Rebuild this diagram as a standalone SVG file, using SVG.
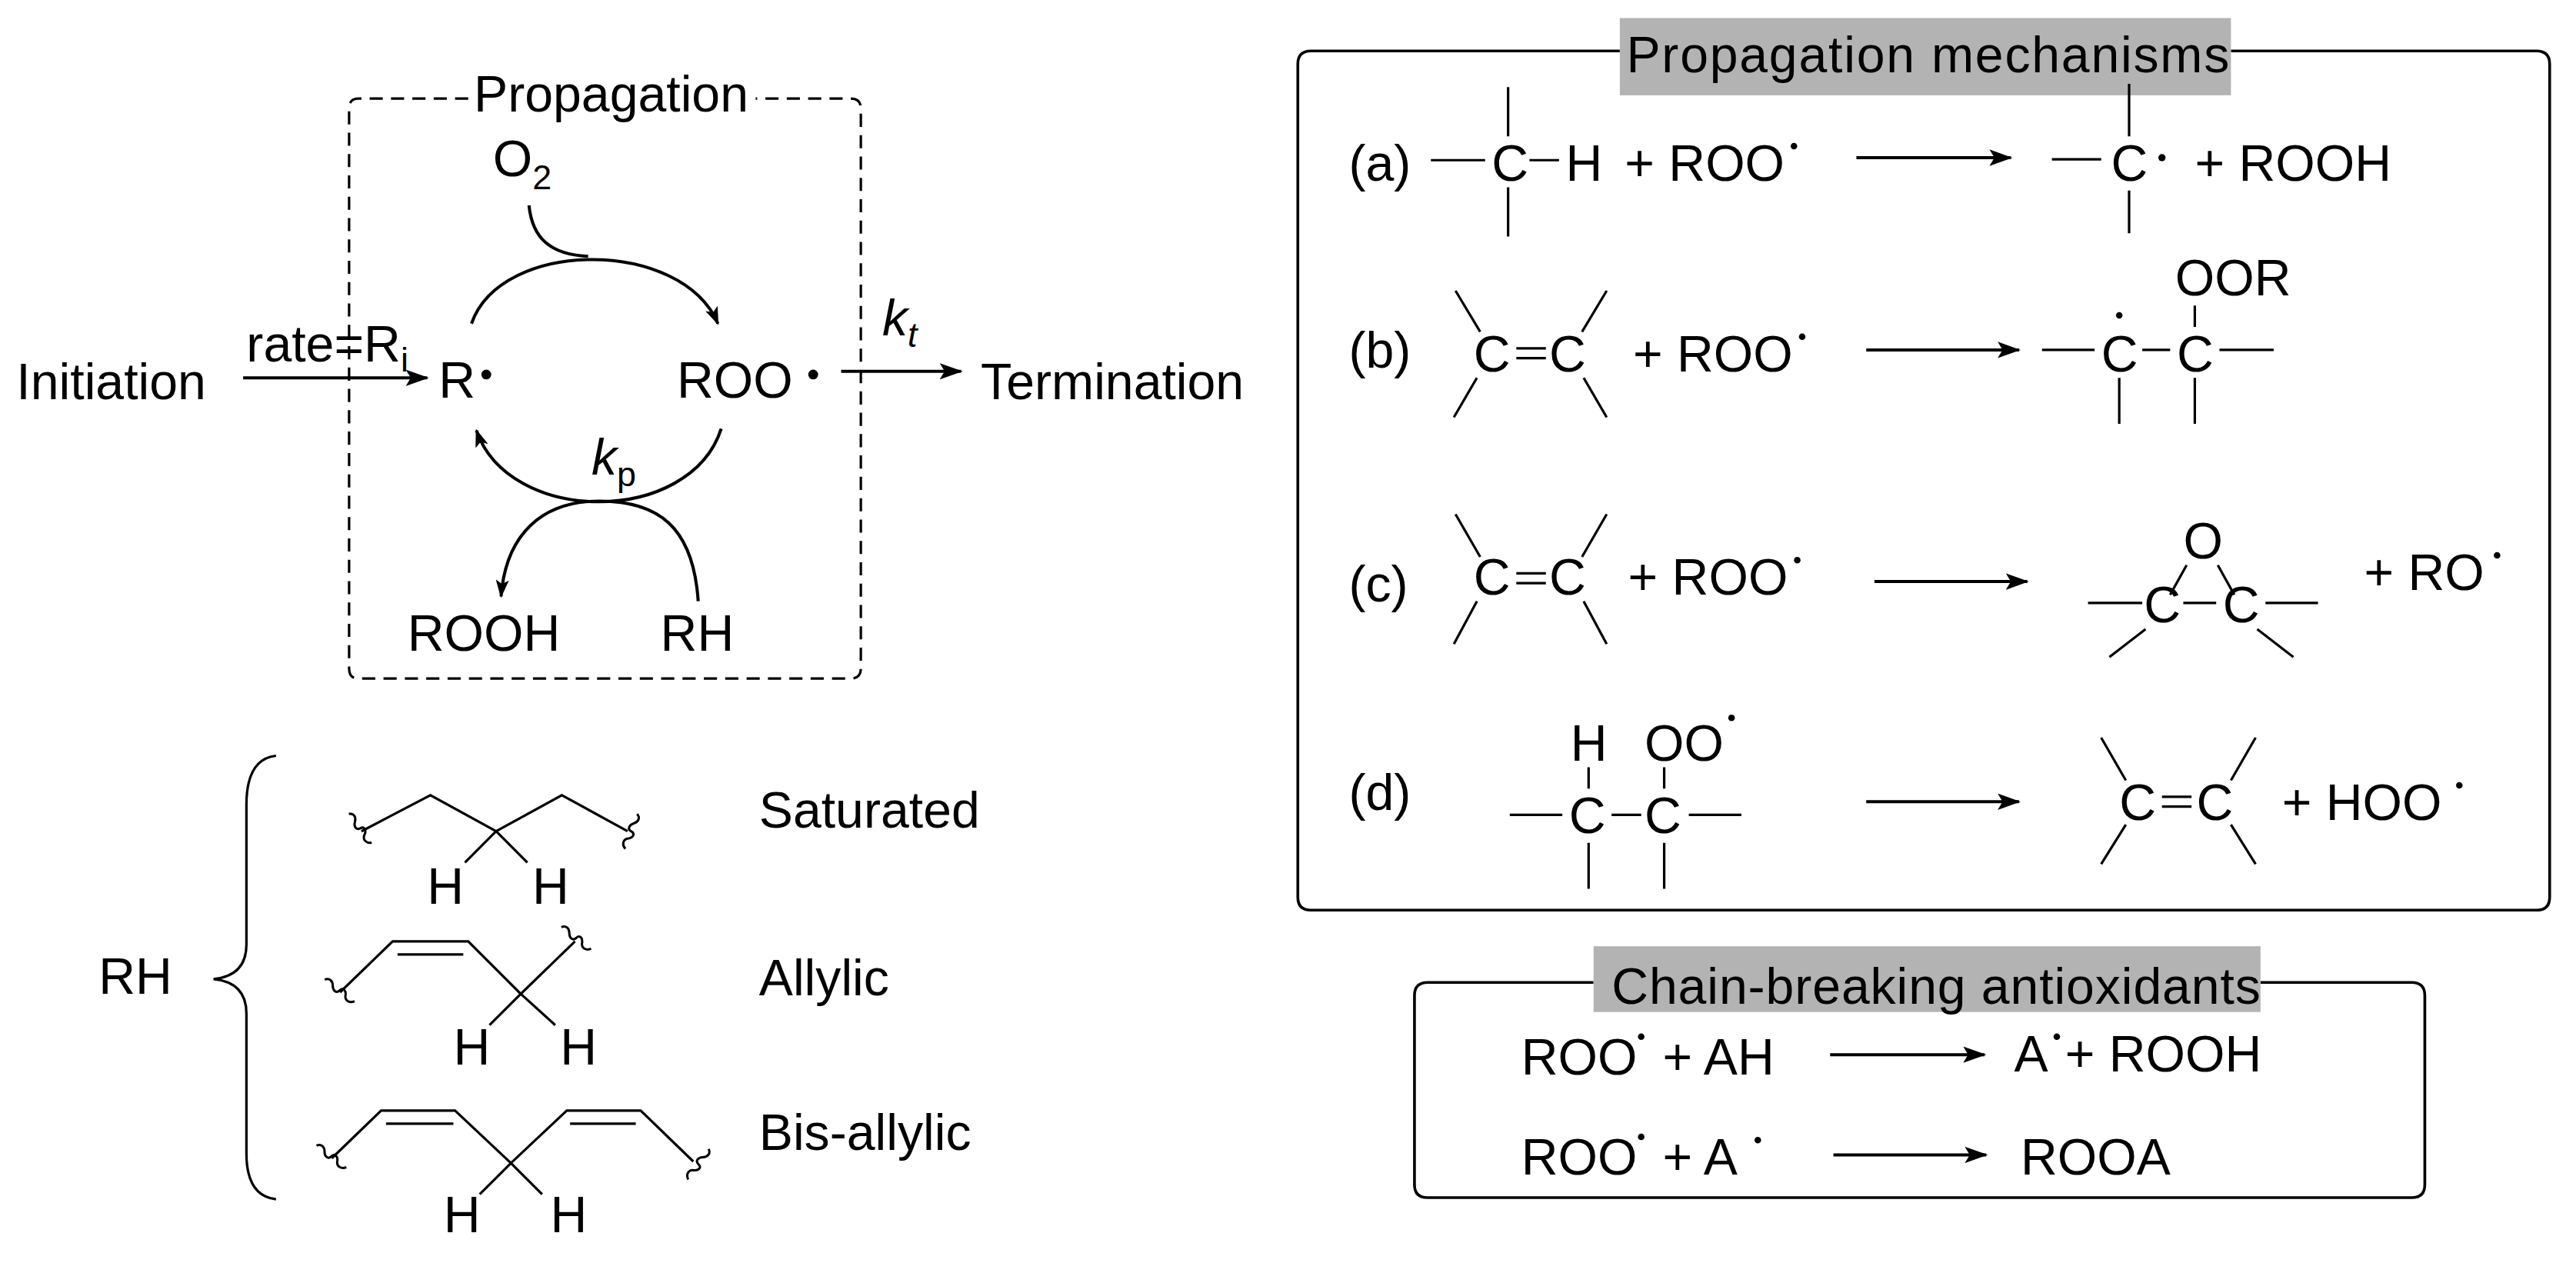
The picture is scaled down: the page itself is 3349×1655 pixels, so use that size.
<svg xmlns="http://www.w3.org/2000/svg" width="3349" height="1655" viewBox="0 0 3349 1655">
<style>
text{font-family:"Liberation Sans",Arial,sans-serif;font-size:31px;fill:#000}
.sub{font-size:21px}
.b{stroke:#000;stroke-width:1.5;fill:none}
.a{stroke:#000;stroke-width:1.9;fill:none}
.dot{fill:#000}
</style>
<defs>
<marker id="ah" markerUnits="userSpaceOnUse" markerWidth="14" markerHeight="10" refX="13" refY="5" orient="auto" viewBox="0 0 14 10"><path d="M0,0 L14,5 L0,10 L3,5 Z" fill="#000"/></marker>
<marker id="ahs" markerUnits="userSpaceOnUse" markerWidth="11" markerHeight="8" refX="10" refY="4" orient="auto" viewBox="0 0 11 8"><path d="M0,0 L11,4 L0,8 L2.5,4 Z" fill="#000"/></marker>
<path id="wavy" d="M0,-12 c3,1 3,4 1,6 c-2,2 -2,5 1,5 c3,0 3,3 0,5 c-2,2 -1,5 2,6" fill="none" stroke="#000" stroke-width="1.4"/>
</defs>
<rect width="3349" height="1655" fill="#fff"/>
<g transform="scale(2.1358)">
<g id="cycle">
<path d="M285,60 H218 Q212.5,60 212.5,66 V407 Q212.5,413 218,413 H518 Q524,413 524,407 V66 Q524,60 518,60 H460" fill="none" stroke="#000" stroke-width="1.5" stroke-dasharray="8,5"/>
<text x="372" y="68" text-anchor="middle">Propagation</text>
<text x="300" y="107">O<tspan class="sub" dy="8">2</tspan></text>
<text x="267" y="242">R</text><circle class="dot" cx="296" cy="228" r="3"/>
<text x="412" y="242">ROO</text><circle class="dot" cx="495" cy="228" r="3"/>
<text x="360" y="289" font-style="italic">k<tspan class="sub" dy="7" font-style="normal">p</tspan></text>
<text x="248" y="396">ROOH</text>
<text x="402" y="396">RH</text>
</g>
<g id="initiation"><text x="10" y="243">Initiation</text><text x="150" y="220">rate=R<tspan class="sub" dy="6">i</tspan></text></g>
<g id="termination"><text x="597" y="243">Termination</text><text x="537" y="204" font-style="italic">k<tspan class="sub" dy="7">t</tspan></text></g>
<g id="connectors">
<line class="a" x1="148" y1="230" x2="260" y2="230" marker-end="url(#ah)"/>
<line class="a" x1="512" y1="226" x2="585" y2="226" marker-end="url(#ah)"/>
<path class="a" d="M287,197 C305,145 415,145 437,197" marker-end="url(#ahs)"/>
<path class="a" d="M322,125 C324,145 335,155 358,156"/>
<path class="a" d="M439,261 C420,320 310,320 290,262" marker-end="url(#ahs)"/>
<path class="a" d="M425,366 C422,320 400,305 365,305 C330,305 308,325 305,363" marker-end="url(#ahs)"/>
</g>
<g id="rh">
<text x="60" y="605">RH</text>
<path class="b" d="M168,460 Q150,462 150,490 V575 Q150,594 130,596 Q150,598 150,617 V702 Q150,728 168,730"/>
<g id="saturated">
<path class="b" d="M220,506 L262,484 L302,506 L342,484 L382,506 M302,506 L283,525 M302,506 L321,525"/>
<use href="#wavy" transform="translate(218,506) rotate(-28)"/>
<use href="#wavy" transform="translate(382,506) rotate(29)"/>
<text x="260" y="550">H</text><text x="324" y="550">H</text>
<text x="462" y="504">Saturated</text>
</g>
<g id="allylic">
<path class="b" d="M207,604 L239,573 L285,573 L317,605 L350,573 M242,581 H282 M317,605 L298,624 M317,605 L338,624"/>
<use href="#wavy" transform="translate(206,605) rotate(-44)"/>
<use href="#wavy" transform="translate(350,573) rotate(-44)"/>
<text x="276" y="648">H</text><text x="341" y="648">H</text>
<text x="462" y="606">Allylic</text>
</g>
<g id="bisallylic">
<path class="b" d="M202,705 L232,676 L277,676 L311,708 L345,676 L390,676 L422,707 M235,684 H276 M347,684 H387 M311,708 L292,727 M311,708 L330,727"/>
<use href="#wavy" transform="translate(201,706) rotate(-44)"/>
<use href="#wavy" transform="translate(423,708) rotate(44)"/>
<text x="270" y="750">H</text><text x="335" y="750">H</text>
<text x="462" y="700">Bis-allylic</text>
</g>
</g>
<g id="mechanisms">
<path d="M986,31 H798 Q790,31 790,39 V546 Q790,554 798,554 H1544 Q1552,554 1552,546 V39 Q1552,31 1544,31 H1358" fill="none" stroke="#000" stroke-width="1.7"/>
<rect x="986" y="11" width="372" height="47" fill="#b3b3b3"/>
<text x="990" y="44" textLength="367">Propagation mechanisms</text>
<g id="ra">
<text x="821" y="110">(a)</text>
<path class="b" d="M871,97.5 H904 M918,53 V83 M918,114 V144 M931,97.5 H949"/>
<text x="908" y="110">C</text><text x="953" y="110">H</text>
<text x="989" y="110">+ ROO</text><circle class="dot" cx="1092" cy="89" r="2"/>
<line class="a" x1="1130" y1="96" x2="1224" y2="96" marker-end="url(#ah)"/>
<path class="b" d="M1249,97 H1279 M1296,51 V83 M1296,116 V142"/>
<text x="1285" y="110">C</text><circle class="dot" cx="1316" cy="96" r="2.2"/>
<text x="1336" y="110">+ ROOH</text>
</g>
<g id="rb">
<text x="821" y="224">(b)</text>
<path class="b" d="M886,177 L901,202 M899,230 L885,254 M978,177 L963,202 M964,230 L978,254 M923,212 H941 M923,218 H941"/>
<text x="897" y="226">C</text><text x="943" y="226">C</text>
<text x="994" y="226">+ ROO</text><circle class="dot" cx="1097" cy="205" r="2"/>
<line class="a" x1="1136" y1="213" x2="1229" y2="213" marker-end="url(#ah)"/>
<path class="b" d="M1243,213 H1275 M1304,213 H1321 M1351,213 H1384 M1290,230 V258 M1336,230 V258 M1336,186 V199"/>
<text x="1279" y="226">C</text><text x="1325" y="226">C</text><circle class="dot" cx="1290" cy="192" r="2"/>
<text x="1324" y="180">OOR</text>
</g>
<g id="rc">
<text x="821" y="366">(c)</text>
<path class="b" d="M886,313 L901,339 M899,366 L885,392 M978,313 L963,339 M964,366 L978,392 M923,349 H941 M923,355 H941"/>
<text x="897" y="362">C</text><text x="943" y="362">C</text>
<text x="991" y="362">+ ROO</text><circle class="dot" cx="1094" cy="341" r="2"/>
<line class="a" x1="1141" y1="354" x2="1234" y2="354" marker-end="url(#ah)"/>
<text x="1329" y="340">O</text>
<path class="b" d="M1271,367 H1304 M1329,367 H1349 M1379,367 H1411 M1331,344 L1321,362 M1350,344 L1360,362 M1306,383 L1284,400 M1374,383 L1396,400"/>
<text x="1305" y="379">C</text><text x="1353" y="379">C</text>
<text x="1439" y="359">+ RO</text><circle class="dot" cx="1520" cy="338" r="2"/>
</g>
<g id="rd">
<text x="821" y="493">(d)</text>
<text x="956" y="463">H</text><text x="1001" y="463">OO</text><circle class="dot" cx="1054" cy="437" r="2"/>
<path class="b" d="M967,467 V480 M1013,467 V480 M919,496 H951 M981,496 H999 M1028,496 H1060 M967,513 V541 M1013,513 V541"/>
<text x="955" y="507">C</text><text x="1001" y="507">C</text>
<line class="a" x1="1136" y1="488" x2="1229" y2="488" marker-end="url(#ah)"/>
<path class="b" d="M1279,449 L1294,475 M1294,502 L1279,526 M1373,449 L1358,475 M1358,502 L1373,526 M1316,485 H1334 M1316,491 H1334"/>
<text x="1290" y="499">C</text><text x="1337" y="499">C</text>
<text x="1389" y="499">+ HOO</text><circle class="dot" cx="1497" cy="478" r="2"/>
</g>
</g>
<g id="antioxidants">
<path d="M970,598 H869 Q861,598 861,606 V721 Q861,729 869,729 H1468 Q1476,729 1476,721 V606 Q1476,598 1468,598 H1376" fill="none" stroke="#000" stroke-width="1.7"/>
<rect x="970" y="576" width="406" height="40" fill="#b3b3b3"/>
<text x="981" y="611" textLength="395">Chain-breaking antioxidants</text>
<text x="926" y="654">ROO</text><circle class="dot" cx="999" cy="631" r="2"/>
<text x="1012" y="654">+ AH</text>
<line class="a" x1="1114" y1="642" x2="1208" y2="642" marker-end="url(#ah)"/>
<text x="1226" y="652">A</text><circle class="dot" cx="1252" cy="631" r="2"/>
<text x="1257" y="652">+ ROOH</text>
<text x="926" y="715">ROO</text><circle class="dot" cx="999" cy="692" r="2"/>
<text x="1012" y="715">+ A</text><circle class="dot" cx="1070" cy="694" r="2"/>
<line class="a" x1="1116" y1="703" x2="1209" y2="703" marker-end="url(#ah)"/>
<text x="1230" y="715">ROOA</text>
</g>
</g>
</svg>
